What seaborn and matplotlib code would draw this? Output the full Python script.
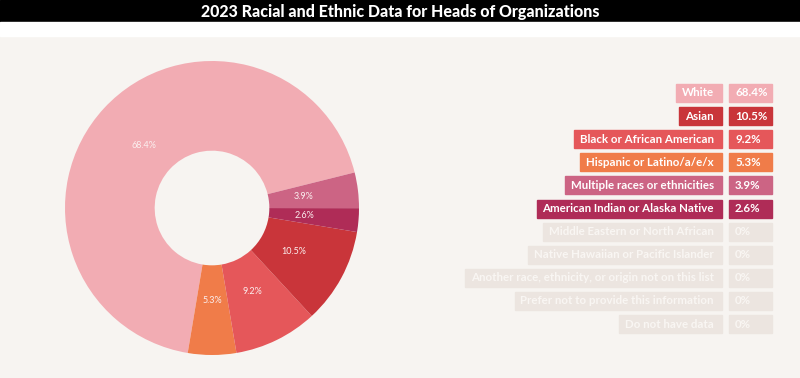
import matplotlib
matplotlib.use("Agg")
import matplotlib.pyplot as plt
import seaborn as sns
from matplotlib.patches import Rectangle

# legend order (as shown on the right)
groups = ["White", "Asian", "Black or African American", "Hispanic or Latino/a/e/x",
          "Multiple races or ethnicities", "American Indian or Alaska Native",
          "Middle Eastern or North African", "Native Hawaiian or Pacific Islander",
          "Another race, ethnicity, or origin not on this list",
          "Prefer not to provide this information", "Do not have data"]
shares = [68.4, 10.5, 9.2, 5.3, 3.9, 2.6, 0, 0, 0, 0, 0]
colors = ["#F2ACB3", "#C9353A", "#E5575A", "#F07C49", "#CC6484", "#AF2C57",
          "#ECE5E0", "#ECE5E0", "#ECE5E0", "#ECE5E0", "#ECE5E0"]
# order of the wedges, counter-clockwise
pie_order = ["White", "Hispanic or Latino/a/e/x", "Black or African American",
             "Asian", "American Indian or Alaska Native", "Multiple races or ethnicities"]

sns.set_theme(style="white")
plt.rcParams["font.family"] = ["Lato", "DejaVu Sans"]

bg = "#F7F4F1"
W, H = 800, 378
fig = plt.figure(figsize=(W / 100, H / 100), dpi=100, facecolor=bg)

# overlay axes in pixel coordinates for title bar and legend boxes
lay = fig.add_axes([0, 0, 1, 1])
lay.set_xlim(0, W)
lay.set_ylim(H, 0)
lay.axis("off")
lay.add_patch(Rectangle((0, 0), W, 22, color="black", zorder=1))
lay.add_patch(Rectangle((0, 22), W, 14, color="white", zorder=1))
lay.text(W / 2, 11.5, "2023 Racial and Ethnic Data for Heads of Organizations",
         color="white", fontsize=11.5, fontweight="black", ha="center", va="center")

# donut
cx, cy, r = 212, 208, 147
ax = fig.add_axes([(cx - r) / W, (H - cy - r) / H, 2 * r / W, 2 * r / H])
idx = [groups.index(g) for g in pie_order]
vals = [shares[i] for i in idx]
cols = [colors[i] for i in idx]
wedges, texts, autotexts = ax.pie(
    vals, colors=cols, startangle=14.0, counterclock=True,
    autopct="%.1f%%", pctdistance=0.63,
    wedgeprops=dict(width=0.61, linewidth=0),
    textprops=dict(color="#FBEFEF", fontsize=6.5))
for t, v in zip(autotexts, vals):
    t.set_text(f"{v:.1f}%")
ax.set_xlim(-1, 1)
ax.set_ylim(-1, 1)
ax.set_aspect("equal")
ax.axis("off")

# legend boxes
renderer = fig.canvas.get_renderer()
y0, dy = 93, 23.1
for i, (g, s, c) in enumerate(zip(groups, shares, colors)):
    y = y0 + i * dy
    tcol = "white" if s > 0 else "#F9F6F3"
    t = lay.text(714, y, g, ha="right", va="center", fontsize=8.3, fontweight="bold",
                 color=tcol, zorder=3)
    tw = t.get_window_extent(renderer).width
    left = 714 - tw - 6
    lay.add_patch(Rectangle((left, y - 9), 722 - left, 18, color=c, zorder=2))
    lay.add_patch(Rectangle((729, y - 9), 43, 18, color=c, zorder=2))
    lab = f"{s:.1f}%" if s > 0 else "0%"
    lay.text(735, y, lab, ha="left", va="center", fontsize=8.3, fontweight="bold",
             color=tcol, zorder=3)

fig.savefig("out.png", dpi=100, facecolor=bg)
